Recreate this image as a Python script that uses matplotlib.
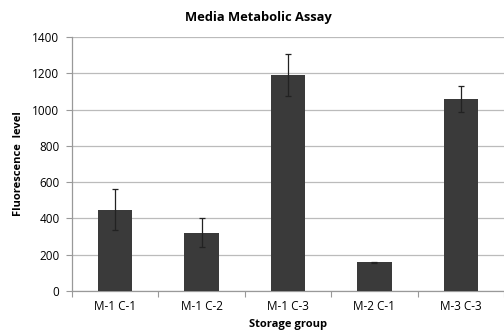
import matplotlib
matplotlib.use("Agg")
import matplotlib.pyplot as plt
import numpy as np

# Storage groups and measured fluorescence (mean and error)
groups = ["M-1 C-1", "M-1 C-2", "M-1 C-3", "M-2 C-1", "M-3 C-3"]
fluorescence = [448, 322, 1190, 158, 1060]
errors = [112, 82, 116, 4, 72]
y_ticks = [0, 200, 400, 600, 800, 1000, 1200, 1400]

plt.rcParams["font.family"] = ["Open Sans", "DejaVu Sans"]

fig = plt.figure(figsize=(5.04, 3.35), dpi=100)
ax = fig.add_axes([72 / 504, 44 / 335, 1 - 72 / 504, 254 / 335])

x = np.arange(len(groups))
ax.bar(x, fluorescence, width=0.4, color="#3a3a3a", zorder=3)
ax.errorbar(x, fluorescence, yerr=errors, fmt="none", ecolor="#222222",
            elinewidth=0.9, capsize=2, capthick=0.9, zorder=4)

ax.set_xlim(-0.5, len(groups) - 0.5)
ax.set_ylim(0, 1400)
ax.set_yticks(y_ticks)
ax.set_yticklabels([str(v) for v in y_ticks], fontsize=8.5)

# category labels centred on bars, tick marks at category boundaries
ax.set_xticks(x)
ax.set_xticklabels(groups, fontsize=8.5)
ax.tick_params(axis="x", length=0, pad=6.5)
ax.set_xticks(np.arange(len(groups) + 1) - 0.5, minor=True)
ax.tick_params(axis="x", which="minor", length=4, color="#999999", width=0.8)
ax.tick_params(axis="y", length=4, color="#999999", width=0.8, pad=5)

ax.grid(axis="y", color="#bbbbbb", linewidth=0.9, zorder=0)
for side in ["top", "right"]:
    ax.spines[side].set_visible(False)
for side in ["left", "bottom"]:
    ax.spines[side].set_color("#999999")
    ax.spines[side].set_linewidth(0.9)

ax.set_xlabel("Storage group", fontsize=8, fontweight="bold", labelpad=4)
ax.set_ylabel("Fluorescence  level", fontsize=8, fontweight="bold", labelpad=6)
fig.text(258 / 504, 1 - 17 / 335, "Media Metabolic Assay", ha="center",
         va="center", fontsize=9.3, fontweight="bold")

fig.savefig("out.png", dpi=100)
